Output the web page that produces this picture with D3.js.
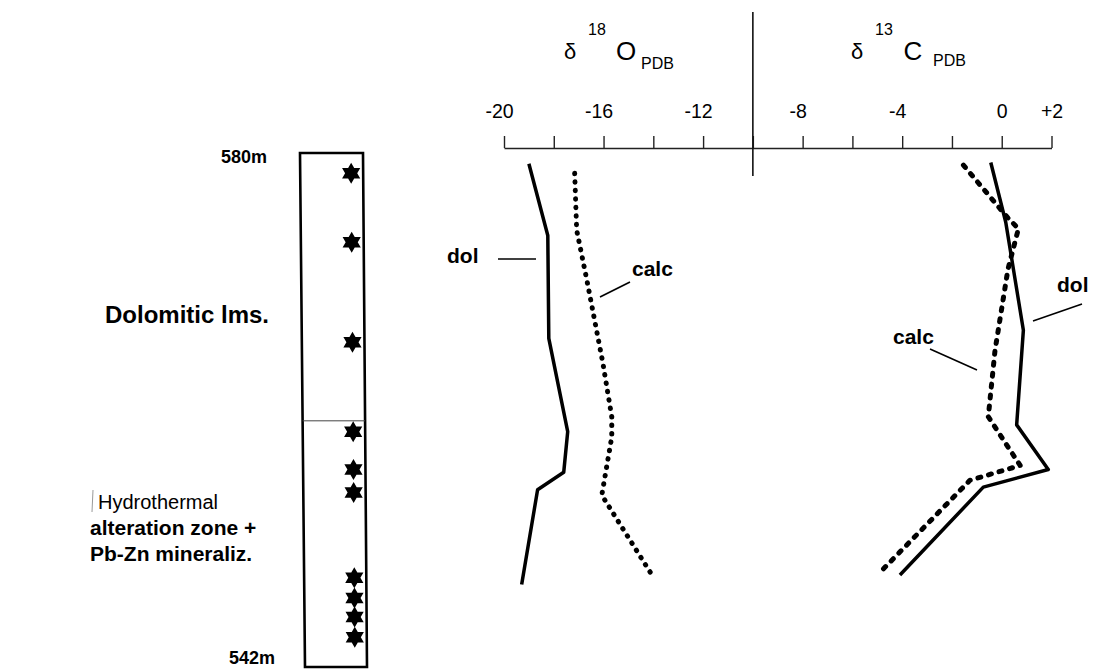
<!DOCTYPE html>
<html>
<head>
<meta charset="utf-8">
<script src="https://cdn.jsdelivr.net/npm/d3@7"></script>
<style>
  html, body { margin: 0; padding: 0; background: #fff; }
  svg { display: block; font-family: "Liberation Sans", Arial, sans-serif; }
  .bold { font-weight: bold; }
</style>
</head>
<body>
<div id="chart"></div>
<script>
"use strict";

// isotope axis (one shared scale, O on the left half, C on the right half)
let tickValues = [-20, -18, -16, -14, -12, -10, -8, -6, -4, -2, 0, 2];
let labelValues = [-20, -16, -12, -8, -4, 0, 2];
let labelTexts = ["-20", "-16", "-12", "-8", "-4", "0", "+2"];

// sample depths (stars in the column), m
let sampleDepths = [578.5, 573.4, 566.0, 559.4, 556.6, 554.9, 548.6, 547.1, 545.7, 544.2];
let zoneBoundary = 560.2;

// d18O dolomite (solid)
let oDolDepth = [579.2, 573.9, 566.3, 559.4, 556.4, 555.1, 548.1];
let oDolValue = [-19.0, -18.24, -18.2, -17.44, -17.6, -18.65, -19.29];
// d18O calcite (dotted)
let oCalcDepth = [578.5, 574.3, 570.6, 564.5, 560.5, 559.0, 554.7, 548.7];
let oCalcValue = [-17.16, -17.08, -16.67, -16.03, -15.67, -15.67, -16.07, -14.02];
// d13C dolomite (solid)
let cDolDepth = [579.3, 574.9, 566.9, 559.9, 556.6, 555.3, 548.8];
let cDolValue = [-0.44, 0.16, 0.87, 0.6, 1.87, -0.74, -4.09];
// d13C calcite (dotted)
let cCalcDepth = [579.1, 575.3, 574.4, 571.4, 565.4, 560.5, 556.9, 555.8, 549.0];
let cCalcValue = [-1.54, 0.2, 0.67, 0.25, -0.27, -0.54, 0.74, -1.28, -4.89];

const W = 1097, H = 670;
const svg = d3.select("#chart").append("svg")
  .attr("width", W)
  .attr("height", H);

let x = d3.scaleLinear().domain([-20, 2]).range([504, 1051.5]);
let y = d3.scaleLinear().domain([580, 542]).range([153, 667]);
const axisY = 148;

// axis
let axis = d3.axisTop(x)
  .tickValues(tickValues)
  .tickSize(12)
  .tickSizeOuter(0)
  .tickPadding(18)
  .tickFormat(d => {
    let i = labelValues.indexOf(d);
    return i >= 0 ? labelTexts[i] : "";
  });
let gAxis = svg.append("g")
  .attr("transform", "translate(0," + axisY + ")")
  .call(axis);
gAxis.select(".domain").attr("stroke", "#222").attr("stroke-width", 1.4);
gAxis.selectAll(".tick line").attr("stroke", "#222").attr("stroke-width", 1.4);
gAxis.selectAll(".tick text")
  .attr("fill", "#000")
  .style("font-size", "19.5px")
  .attr("dx", d => d < 0 ? -5 : 0);

// vertical divider between O and C
svg.append("line")
  .attr("x1", x(-10)).attr("x2", x(-10))
  .attr("y1", 12).attr("y2", 176)
  .attr("stroke", "#111").attr("stroke-width", 1.6);

// axis titles
function isoTitle(cx, sup, el) {
  let t = svg.append("g");
  t.append("text").attr("x", cx).attr("y", 59).attr("text-anchor", "middle")
    .style("font-size", "22px").text("δ");
  t.append("text").attr("x", cx + 27).attr("y", 35).attr("text-anchor", "middle")
    .style("font-size", "16px").text(sup);
  t.append("text").attr("x", cx + 56).attr("y", 60).attr("text-anchor", "middle")
    .style("font-size", "26px").text(el);
}
isoTitle(570, "18", "O");
svg.append("text").attr("x", 641).attr("y", 69).style("font-size", "16px").text("PDB");
isoTitle(857, "13", "C");
svg.append("text").attr("x", 933).attr("y", 66).style("font-size", "16px").text("PDB");

// column
const boxL = d3.scaleLinear().domain([580, 542]).range([300, 305]);
const boxR = d3.scaleLinear().domain([580, 542]).range([363, 367]);
svg.append("path")
  .attr("d", "M" + boxL(580) + "," + y(580) + "L" + boxR(580) + "," + y(580) +
    "L" + boxR(542) + "," + y(542) + "L" + boxL(542) + "," + y(542) + "Z")
  .attr("fill", "none").attr("stroke", "#000").attr("stroke-width", 2.6);
svg.append("line")
  .attr("x1", boxL(zoneBoundary)).attr("x2", boxR(zoneBoundary))
  .attr("y1", y(zoneBoundary)).attr("y2", y(zoneBoundary))
  .attr("stroke", "#444").attr("stroke-width", 1);

// stars (six-pointed)
function hexagram(r) {
  let pts = [];
  for (let i = 0; i < 12; i++) {
    let a = Math.PI / 6 * i - Math.PI / 2;
    let rr = i % 2 === 0 ? r : r / Math.sqrt(3);
    pts.push([Math.cos(a) * rr, Math.sin(a) * rr]);
  }
  return "M" + pts.map(p => p.join(",")).join("L") + "Z";
}
svg.selectAll("path.star")
  .data(sampleDepths)
  .enter().append("path")
  .attr("class", "star")
  .attr("d", hexagram(10.5))
  .attr("transform", d => "translate(" + (boxR(d) - 12) + "," + y(d) + ")")
  .attr("fill", "#000");

// depth labels
svg.append("text").attr("class", "bold").attr("x", 267).attr("y", 163)
  .attr("text-anchor", "end").style("font-size", "18px").text("580m");
svg.append("text").attr("class", "bold").attr("x", 275).attr("y", 664)
  .attr("text-anchor", "end").style("font-size", "18px").text("542m");

// unit labels
svg.append("text").attr("class", "bold").attr("x", 105).attr("y", 323)
  .style("font-size", "24px").text("Dolomitic lms.");
svg.append("line").attr("x1", 93).attr("x2", 92).attr("y1", 490).attr("y2", 512)
  .attr("stroke", "#999").attr("stroke-width", 1);
svg.append("text").attr("x", 98).attr("y", 509)
  .style("font-size", "20px").text("Hydrothermal");
svg.append("text").attr("class", "bold").attr("x", 90).attr("y", 535)
  .style("font-size", "21px").text("alteration zone +");
svg.append("text").attr("class", "bold").attr("x", 90).attr("y", 561)
  .style("font-size", "21px").text("Pb-Zn mineraliz.");

// curves
let line = d3.line().x(d => x(d[0])).y(d => y(d[1]));
function curve(vals, depths, dotted, dash) {
  let p = svg.append("path")
    .datum(vals.map((v, i) => [v, depths[i]]))
    .attr("d", line)
    .attr("fill", "none")
    .attr("stroke", "#000")
    .attr("stroke-linejoin", "round");
  if (dotted) {
    p.attr("stroke-width", 5).attr("stroke-linecap", "round").attr("stroke-dasharray", dash);
  } else {
    p.attr("stroke-width", 3.5);
  }
}
curve(oDolValue, oDolDepth, false);
curve(oCalcValue, oCalcDepth, true, "0.5 8");
curve(cDolValue, cDolDepth, false);
curve(cCalcValue, cCalcDepth, true, "3 8");

// curve labels with leaders
function leader(x1, y1, x2, y2) {
  svg.append("line").attr("x1", x1).attr("y1", y1).attr("x2", x2).attr("y2", y2)
    .attr("stroke", "#000").attr("stroke-width", 1.6);
}
svg.append("text").attr("class", "bold").attr("x", 447).attr("y", 263)
  .style("font-size", "21px").text("dol");
leader(498, 259, 536, 259);
svg.append("text").attr("class", "bold").attr("x", 632).attr("y", 276)
  .style("font-size", "21px").text("calc");
leader(600, 297, 630, 282);
svg.append("text").attr("class", "bold").attr("x", 1057).attr("y", 292)
  .style("font-size", "21px").text("dol");
leader(1033, 321, 1082, 304);
svg.append("text").attr("class", "bold").attr("x", 893).attr("y", 344)
  .style("font-size", "21px").text("calc");
leader(930, 349, 977, 370);
</script>
</body>
</html>
